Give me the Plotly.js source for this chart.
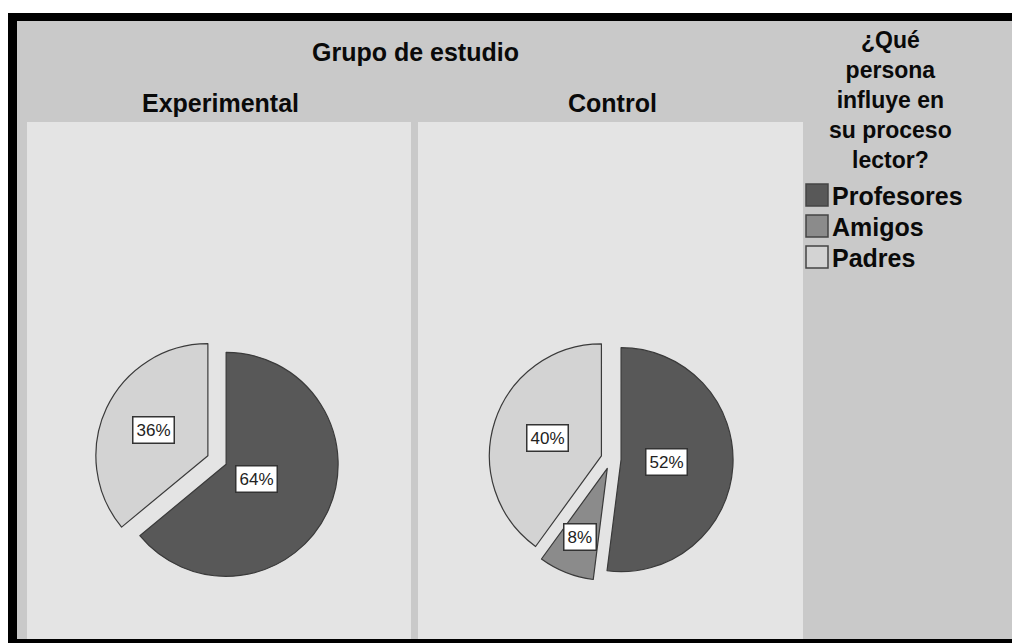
<!DOCTYPE html>
<html>
<head>
<meta charset="utf-8">
<script src="https://cdn.plot.ly/plotly-3.0.1.min.js"></script>
<style>html,body{margin:0;padding:0;background:#fff;}#chart{width:1012px;height:643px;}</style>
</head>
<body>
<div id="chart"></div>
<script>
// ---- data ----
const categories = ["Profesores", "Amigos", "Padres"];
const groups = ["Experimental", "Control"];
const experimentalValues = [64, 0, 36];
const controlValues = [52, 8, 40];
const sliceColors = ["#585858", "#8b8b8b", "#d3d3d3"];
const groupTitle = "Grupo de estudio";
const legendTitleLines = ["¿Qué", "persona", "influye en", "su proceso", "lector?"];

// ---- layout helpers (pixel -> paper) ----
const W = 1012, H = 643;
const px = x => x / W;
const py = y => 1 - y / H;
const FONT = "Liberation Sans, Arial, sans-serif";
const HEAD = {family: FONT, size: 25, color: "#0a0a0a", weight: "bold"};

const R = 112, PULL = 0.09;
const pies = [
  {values: experimentalValues, cx: 217, cy: 460, title: groups[0], tx: 220},
  {values: controlValues, cx: 611, cy: 459, title: groups[1], tx: 612}
];

const traces = [];
const annotations = [];
function txt(x, y, text, font, extra) {
  return Object.assign({xref: "paper", yref: "paper", x: px(x), y: py(y), text: text,
    showarrow: false, xanchor: "center", yanchor: "middle", font: font}, extra || {});
}
pies.forEach(p => {
  const half = R * (1 + PULL);
  traces.push({
    type: "pie",
    labels: categories,
    values: p.values,
    sort: false,
    direction: "clockwise",
    rotation: 0,
    pull: p.values.map(v => v > 0 ? PULL : 0),
    marker: {colors: sliceColors, line: {color: "#3a3a3a", width: p.values.map(v => v > 0 ? 1.2 : 0)}},
    textinfo: "none",
    hoverinfo: "label+percent",
    showlegend: false,
    domain: {x: [px(p.cx - half), px(p.cx + half)], y: [py(p.cy + half), py(p.cy - half)]}
  });
  // percentage labels in white boxes, placed at each slice's centroid
  const total = p.values.reduce((a, b) => a + b, 0);
  let cum = 0;
  p.values.forEach(v => {
    const frac = v / total;
    if (v > 0) {
      const a = frac * 2 * Math.PI;
      const mid = (cum + frac / 2) * 2 * Math.PI;
      const d = R * PULL + 4 * R * Math.sin(a / 2) / (3 * a);
      annotations.push(txt(p.cx + d * Math.sin(mid), p.cy - d * Math.cos(mid),
        Math.round(frac * 100) + "%",
        {family: FONT, size: 17, color: "#222"},
        {bgcolor: "#ffffff", bordercolor: "#333333", borderwidth: 1.5, borderpad: 3}));
    }
    cum += frac;
  });
  annotations.push(txt(p.tx, 103, p.title, HEAD));
});

annotations.push(txt(415, 52, groupTitle, HEAD));
annotations.push(txt(890, 100, legendTitleLines.join("<br>"),
  {family: FONT, size: 23, color: "#0a0a0a", weight: "bold"}));

const shapes = [
  {type: "rect", xref: "paper", yref: "paper", x0: px(8), x1: px(1012), y0: py(643), y1: py(13), fillcolor: "#000", line: {width: 0}, layer: "below"},
  {type: "rect", xref: "paper", yref: "paper", x0: px(17), x1: px(1012), y0: py(639), y1: py(21), fillcolor: "#c9c9c9", line: {width: 0}, layer: "below"},
  {type: "rect", xref: "paper", yref: "paper", x0: px(27), x1: px(411), y0: py(639), y1: py(122), fillcolor: "#e4e4e4", line: {width: 0}, layer: "below"},
  {type: "rect", xref: "paper", yref: "paper", x0: px(418), x1: px(803), y0: py(639), y1: py(122), fillcolor: "#e4e4e4", line: {width: 0}, layer: "below"}
];

// custom legend
categories.forEach((c, i) => {
  const yc = 195 + i * 31;
  shapes.push({type: "rect", xref: "paper", yref: "paper",
    x0: px(806), x1: px(828), y0: py(yc + 11), y1: py(yc - 11),
    fillcolor: sliceColors[i], line: {color: "#444", width: 1.5}});
  annotations.push(txt(830, yc + 1, c, HEAD, {xanchor: "left"}));
});

Plotly.newPlot("chart", traces, {
  width: W, height: H,
  margin: {l: 0, r: 0, t: 0, b: 0},
  paper_bgcolor: "#ffffff",
  shapes: shapes,
  annotations: annotations
}, {displayModeBar: false, staticPlot: true});
</script>
</body>
</html>
